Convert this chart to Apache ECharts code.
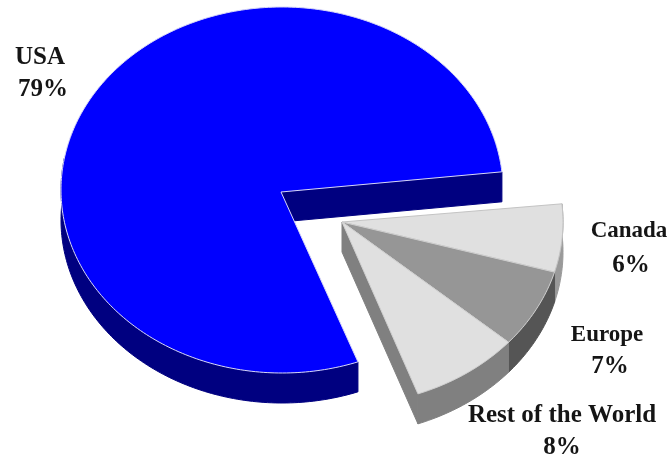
<!DOCTYPE html>
<html>
<head>
<meta charset="utf-8">
<style>
html,body{margin:0;padding:0;background:#fff}
#c{width:671px;height:462px;filter:blur(0.45px)}
</style>
<script src="https://cdn.jsdelivr.net/npm/echarts@6/dist/echarts.min.js"></script>
</head>
<body>
<div id="c"></div>
<script>
var categories = ['Canada', 'Europe', 'Rest of the World', 'USA'];
var shares = [6, 7, 8, 79];

var topColors = ['#e0e0e0', '#969696', '#e0e0e0', '#0000ff'];
var wallColors = ['#9a9a9a', '#555555', '#808080', '#000080'];
var edgeColors = ['#c4c4c4', '#cfcfcf', '#cfcfcf', '#d8d8f8'];
var nameSpots = [[629, 231], [607, 335], [562, 416], [40, 58]];
var shareSpots = [[631, 266], [610, 367], [562, 448], [43, 90]];
var nameSizes = [23, 23, 25, 25];
var SHARE_SIZE = 25;

var RX = 221, RY = 183, DEPTH = 30, START = -5.7;
var CENTER = [282, 190];
var APEX_USA = [281, 192];
var APEX_GROUP = [342, 222];

var total = shares.reduce(function (a, b) { return a + b; }, 0);
var spans = [], acc = START;
shares.forEach(function (s) {
  var next = acc + s / total * 360;
  spans.push([acc, next]);
  acc = next;
});

function geom(i) {
  var isUsa = categories[i] === 'USA';
  return {
    ox: isUsa ? CENTER[0] : APEX_GROUP[0],
    oy: isUsa ? CENTER[1] : APEX_GROUP[1],
    apex: isUsa ? APEX_USA : APEX_GROUP
  };
}
function rimPoints(g, a0, a1, dy) {
  var pts = [], n = Math.max(2, Math.ceil(Math.abs(a1 - a0)));
  for (var k = 0; k <= n; k++) {
    var t = (a0 + (a1 - a0) * k / n) * Math.PI / 180;
    pts.push([g.ox + RX * Math.cos(t), g.oy + RY * Math.sin(t) + (dy || 0)]);
  }
  return pts;
}
function poly(points, fill, stroke) {
  return {
    type: 'polygon',
    shape: { points: points },
    style: { fill: fill, stroke: stroke || fill, lineWidth: 1 }
  };
}
function wallItem(params, api) {
  var i = api.value(0), g = geom(i), sp = spans[i], kids = [];
  var a0 = sp[0], a1 = Math.min(sp[1], 190);
  var up = rimPoints(g, a0, a1, 0), low = rimPoints(g, a0, a1, DEPTH).reverse();
  if (categories[i] === 'USA') {
    var s = rimPoints(g, START, START, 0)[0];
    kids.push(poly([g.apex, s, [s[0], s[1] + DEPTH], [g.apex[0], g.apex[1] + DEPTH]], wallColors[i]));
  }
  if (categories[i] === 'Rest of the World') {
    var e = up[up.length - 1];
    kids.push(poly([g.apex, e, [e[0], e[1] + DEPTH], [g.apex[0], g.apex[1] + DEPTH]], wallColors[i]));
  }
  kids.push(poly(up.concat(low), wallColors[i]));
  return { type: 'group', children: kids };
}
function topItem(params, api) {
  var i = api.value(0), g = geom(i), sp = spans[i];
  return poly([g.apex].concat(rimPoints(g, sp[0], sp[1], 0)), topColors[i], edgeColors[i]);
}
function textEl(str, spot, size) {
  return {
    type: 'text',
    x: spot[0],
    y: spot[1],
    style: {
      text: str,
      fill: '#151515',
      align: 'center',
      verticalAlign: 'middle',
      font: 'bold ' + size + 'px "Liberation Serif"'
    }
  };
}
function labelItem(params, api) {
  var i = api.value(0);
  return {
    type: 'group',
    children: [
      textEl(categories[i], nameSpots[i], nameSizes[i]),
      textEl(shares[i] + '%', shareSpots[i], SHARE_SIZE)
    ]
  };
}
var wallOrder = [3, 0, 1, 2];
var chart = echarts.init(document.getElementById('c'), null, { renderer: 'canvas' });
chart.setOption({
  animation: false,
  backgroundColor: '#fff',
  series: [
    { type: 'custom', coordinateSystem: 'none', renderItem: wallItem, data: wallOrder.map(function (i) { return [i]; }), silent: true, z: 1 },
    { type: 'custom', coordinateSystem: 'none', renderItem: topItem, data: shares.map(function (s, i) { return [i]; }), silent: true, z: 2 },
    { type: 'custom', coordinateSystem: 'none', renderItem: labelItem, data: shares.map(function (s, i) { return [i]; }), silent: true, z: 3 }
  ]
});
</script>
</body>
</html>
